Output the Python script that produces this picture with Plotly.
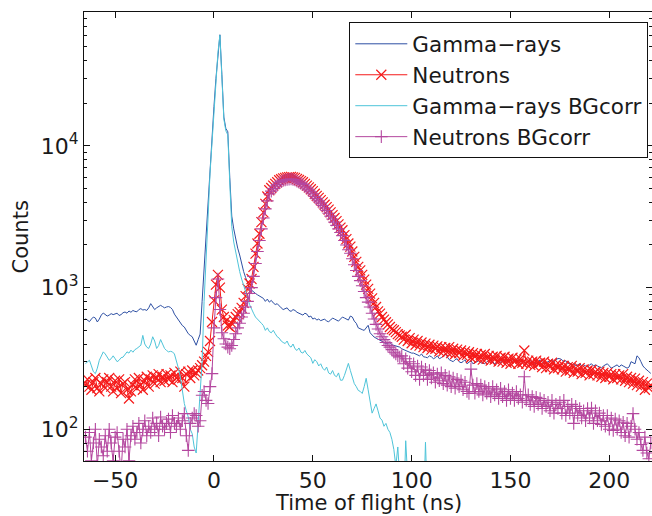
import plotly.graph_objects as go

# time of flight bins (ns), 1 ns wide
tof = list(range(-65, 222))

gamma = [
    604, 590, 575, 600, 620, 610, 572, 600, 640, 662,
    650, 630, 640, 655, 645, 650, 660, 636, 645, 665,
    673, 660, 684, 670, 690, 680, 675, 700, 711, 695,
    700, 690, 720, 771, 730, 700, 720, 740, 750, 735,
    720, 730, 735, 725, 700, 650, 620, 588, 560, 540,
    527, 500, 473, 460, 450, 420, 392, 430, 470, 800,
    1400, 2400, 3700, 6500, 11000, 19000, 30000, 46000, 61000, 32000,
    16000, 13300, 12600, 6000, 3200, 2600, 2150, 1900, 1700, 1450,
    1300, 1180, 1080, 1000, 960, 930, 910, 890, 870, 850,
    840, 800, 830, 790, 813, 780, 760, 770, 740, 720,
    700, 710, 720, 690, 680, 700, 690, 670, 660, 650,
    640, 660, 650, 620, 630, 600, 610, 590, 600, 585,
    590, 600, 580, 575, 590, 610, 600, 590, 580, 600,
    620, 610, 600, 590, 630, 620, 580, 560, 520, 510,
    505, 499, 520, 542, 480, 460, 448, 440, 430, 425,
    420, 410, 400, 405, 410, 395, 390, 385, 380, 380,
    370, 365, 360, 355, 350, 345, 345, 340, 335, 330,
    340, 325, 323, 320, 330, 325, 315, 320, 330, 315,
    320, 330, 340, 325, 310, 305, 300, 310, 315, 300,
    295, 300, 310, 290, 300, 305, 290, 295, 300, 305,
    295, 292, 290, 300, 305, 310, 300, 290, 295, 300,
    295, 305, 300, 310, 300, 307, 310, 300, 305, 310,
    300, 305, 295, 290, 300, 305, 300, 295, 290, 295,
    310, 300, 290, 295, 300, 305, 310, 300, 307, 316,
    315, 310, 300, 305, 290, 295, 285, 290, 280, 285,
    290, 282, 285, 280, 275, 285, 290, 280, 285, 280,
    275, 270, 280, 285, 290, 280, 270, 275, 280, 285,
    275, 285, 280, 275, 270, 275, 300, 295, 290, 330,
    320, 300, 280, 270, 260, 255, 248,
]

neutrons = [
    205, 225, 200, 190, 215, 230, 195, 185, 210, 225,
    195, 215, 230, 200, 185, 220, 195, 225, 180, 210,
    215, 190, 165, 185, 205, 225, 195, 230, 205, 190,
    220, 235, 200, 225, 240, 210, 230, 245, 215, 235,
    220, 245, 225, 240, 215, 250, 230, 225, 255, 230,
    200, 245, 255, 230, 260, 240, 250, 260, 270, 283,
    300, 330, 352, 420, 572, 813, 1050, 1230, 1000, 700,
    620, 580, 540, 527, 560, 590, 620, 650, 672, 720,
    780, 870, 980, 1070, 1150, 1400, 1740, 2050, 2400, 2900,
    3400, 3900, 4400, 4870, 5050, 5250, 5400, 5550, 5730, 5820,
    5900, 5950, 6000, 6030, 6050, 6000, 5950, 5850, 5750, 5650,
    5550, 5400, 5250, 5100, 4950, 4800, 4600, 4450, 4300, 4150,
    4000, 3850, 3700, 3550, 3400, 3250, 3100, 2950, 2800, 2650,
    2540, 2350, 2200, 2050, 1950, 1800, 1650, 1520, 1400, 1325,
    1230, 1140, 1050, 980, 908, 840, 780, 730, 680, 655,
    620, 595, 570, 550, 527, 510, 500, 485, 470, 460,
    450, 430, 465, 420, 440, 405, 430, 395, 420, 390,
    410, 380, 402, 375, 395, 365, 390, 370, 385, 355,
    380, 355, 375, 350, 380, 345, 370, 340, 365, 345,
    360, 330, 355, 335, 350, 320, 345, 325, 340, 315,
    335, 310, 340, 315, 330, 305, 325, 310, 330, 300,
    320, 300, 325, 295, 315, 290, 320, 300, 310, 290,
    315, 295, 360, 290, 305, 285, 300, 280, 305, 290,
    295, 275, 300, 270, 290, 275, 295, 265, 285, 270,
    285, 265, 280, 255, 275, 260, 280, 250, 270, 255,
    270, 245, 265, 250, 260, 240, 262, 245, 255, 240,
    255, 235, 250, 230, 250, 235, 245, 225, 245, 230,
    240, 225, 245, 220, 235, 215, 230, 210, 228, 205,
    220, 200, 215, 190, 210, 195, 205,
]

gamma_bg = [
    291, 300, 307, 280, 255, 247, 270, 307, 330, 352,
    340, 320, 307, 315, 330, 315, 300, 307, 320, 323,
    335, 352, 345, 362, 350, 365, 372, 380, 392, 460,
    400, 380, 372, 400, 450, 420, 372, 390, 430, 400,
    372, 360, 352, 355, 352, 340, 307, 270, 234, 190,
    152, 135, 122, 100, 93, 75, 68, 110, 174, 300,
    800, 1800, 3100, 6400, 10500, 18500, 29500, 45500, 60500, 31500,
    15500, 12800, 12000, 5500, 2700, 2100, 1750, 1500, 1300, 1150,
    1050, 950, 850, 760, 700, 660, 620, 600, 587, 560,
    540, 499, 520, 490, 480, 500, 473, 450, 440, 420,
    410, 403, 420, 390, 380, 400, 370, 360, 375, 350,
    345, 360, 340, 330, 320, 292, 310, 300, 280, 290,
    270, 261, 275, 250, 245, 260, 240, 235, 250, 222,
    222, 240, 270, 292, 260, 230, 210, 200, 188, 185,
    179, 200, 229, 190, 160, 130, 140, 151, 135, 120,
    116, 105, 110, 100, 95, 85, 72, 55, 75, 45,
    40, 30, 83, 40, 25, 20, 20, 20, 20, 20,
    20, 25, 81, 30, 20, 20, 20, 20, 20, 20,
    20, 20, 20, 20, 20, 20, 20, 20, 20, 20,
    20, 20, 20, 20, 20, 20, 20, 20, 20, 20,
    20, 20, 20, 20, 20, 20, 20, 20, 20, 20,
    20, 20, 20, 20, 20, 20, 20, 20, 20, 20,
    20, 20, 20, 20, 20, 20, 20, 20, 20, 20,
    20, 20, 20, 20, 20, 20, 20, 20, 20, 20,
    20, 20, 20, 20, 20, 20, 20, 20, 20, 20,
    20, 20, 20, 20, 20, 20, 20, 20, 20, 20,
    20, 20, 20, 20, 20, 20, 20, 20, 20, 20,
    20, 20, 20, 20, 20, 20, 20, 20, 20, 20,
    20, 20, 20, 20, 20, 20, 20,
]

neutrons_bg = [
    88, 70, 95, 60, 80, 100, 55, 85, 75, 65,
    90, 70, 100, 80, 60, 88, 95, 70, 50, 85,
    75, 100, 60, 90, 105, 85, 95, 110, 80, 100,
    115, 90, 105, 95, 120, 100, 110, 90, 122, 105,
    100, 110, 118, 95, 125, 110, 105, 120, 100, 115,
    129, 90, 71, 110, 120, 129, 125, 105, 115, 174,
    185, 160, 152, 200, 247, 520, 850, 1150, 700, 480,
    436, 400, 380, 370, 390, 430, 473, 520, 560, 620,
    660, 730, 800, 908, 1000, 1200, 1480, 1800, 2150, 2600,
    3100, 3600, 4100, 4600, 4800, 5000, 5200, 5350, 5500, 5600,
    5700, 5750, 5800, 5830, 5850, 5800, 5750, 5650, 5550, 5450,
    5350, 5200, 5050, 4900, 4750, 4600, 4400, 4250, 4100, 3950,
    3800, 3650, 3500, 3350, 3200, 3050, 2900, 2750, 2600, 2450,
    2330, 2150, 2000, 1850, 1750, 1600, 1450, 1320, 1200, 1120,
    1030, 940, 850, 790, 730, 660, 600, 550, 510, 473,
    450, 430, 410, 390, 380, 365, 350, 340, 330, 324,
    330, 290, 315, 270, 300, 255, 290, 240, 280, 225,
    275, 240, 265, 225, 260, 230, 250, 215, 245, 220,
    250, 210, 240, 205, 235, 200, 230, 195, 225, 200,
    220, 190, 215, 185, 179, 266, 205, 180, 210, 185,
    205, 175, 200, 180, 195, 170, 200, 175, 190, 165,
    195, 170, 185, 160, 190, 165, 180, 160, 185, 165,
    175, 155, 235, 160, 175, 150, 170, 145, 168, 150,
    165, 140, 160, 145, 155, 135, 160, 130, 150, 140,
    155, 130, 160, 125, 145, 130, 150, 110, 145, 125,
    140, 120, 135, 115, 140, 120, 141, 110, 135, 115,
    130, 108, 125, 105, 125, 100, 120, 98, 118, 100,
    115, 95, 112, 90, 110, 88, 105, 129, 100, 85,
    95, 78, 71, 88, 68, 62, 80,
]

y_major = [100, 1000, 10000]
y_major_text = ["10<sup>2</sup>", "10<sup>3</sup>", "10<sup>4</sup>"]
y_minor = [60, 70, 80, 90, 200, 300, 400, 500, 600, 700, 800, 900,
           2000, 3000, 4000, 5000, 6000, 7000, 8000, 9000,
           20000, 30000, 40000, 50000, 60000, 70000, 80000, 90000]
x_ticks = [-50, 0, 50, 100, 150, 200]
x_tick_text = ["\u221250", "0", "50", "100", "150", "200"]

FONT = "DejaVu Sans, Liberation Sans, Arial, sans-serif"
TXT = "#1a1a1a"
C_GAMMA = "#2d4fa3"
C_NEUT = "#f51a1a"
C_GBG = "#4ec4d9"
C_NBG = "#b4479f"

fig = go.Figure()
fig.add_trace(go.Scatter(x=tof, y=gamma, mode="lines", name="Gamma\u2212rays",
                         line=dict(color=C_GAMMA, width=1)))
fig.add_trace(go.Scatter(x=tof, y=neutrons, mode="lines+markers", name="Neutrons",
                         line=dict(color=C_NEUT, width=1),
                         marker=dict(symbol="x-thin", size=10, color=C_NEUT,
                                     line=dict(color=C_NEUT, width=1.2))))
fig.add_trace(go.Scatter(x=tof, y=gamma_bg, mode="lines", name="Gamma\u2212rays BGcorr",
                         line=dict(color=C_GBG, width=1)))
fig.add_trace(go.Scatter(x=tof, y=neutrons_bg, mode="lines+markers", name="Neutrons BGcorr",
                         line=dict(color=C_NBG, width=1),
                         marker=dict(symbol="cross-thin", size=9, color=C_NBG,
                                     line=dict(color=C_NBG, width=1.1))))

fig.update_layout(
    template="none",
    width=652, height=516,
    margin=dict(l=84, r=0, t=12, b=55),
    paper_bgcolor="white", plot_bgcolor="white",
    font=dict(family=FONT, size=22, color=TXT),
    showlegend=True,
    legend=dict(x=0.9935, y=0.977, xanchor="right", yanchor="top",
                bgcolor="white", bordercolor="#111", borderwidth=1,
                font=dict(family=FONT, size=21.5, color=TXT),
                itemwidth=52, tracegroupgap=0),
    xaxis=dict(range=[-65.75, 221.6], tickmode="array", tickvals=x_ticks,
               ticktext=x_tick_text, ticks="inside", ticklen=6, tickwidth=1,
               tickcolor="#111", showline=True, linecolor="#111", linewidth=1,
               mirror="ticks", showgrid=False, zeroline=False, automargin=False,
               tickfont=dict(family=FONT, size=22, color=TXT)),
    yaxis=dict(type="log", range=[1.776, 4.946], tickmode="array",
               tickvals=y_major, ticktext=y_major_text, ticks="inside",
               ticklen=6, tickwidth=1, tickcolor="#111",
               minor=dict(tickmode="array", tickvals=y_minor, ticks="inside",
                          ticklen=3, tickwidth=1, tickcolor="#111"),
               showline=True, linecolor="#111", linewidth=1, mirror="ticks",
               showgrid=False, zeroline=False, automargin=False,
               tickfont=dict(family=FONT, size=22, color=TXT)),
    annotations=[
        dict(text="Time of flight (ns)", xref="paper", yref="paper",
             x=0.5, y=-0.0942, xanchor="center", yanchor="middle",
             showarrow=False, font=dict(family=FONT, size=21, color=TXT)),
        dict(text="Counts", xref="paper", yref="paper", textangle=-90,
             x=-0.111, y=0.5, xanchor="center", yanchor="middle",
             showarrow=False, font=dict(family=FONT, size=21, color=TXT)),
    ],
)

fig.write_html("out.html")
